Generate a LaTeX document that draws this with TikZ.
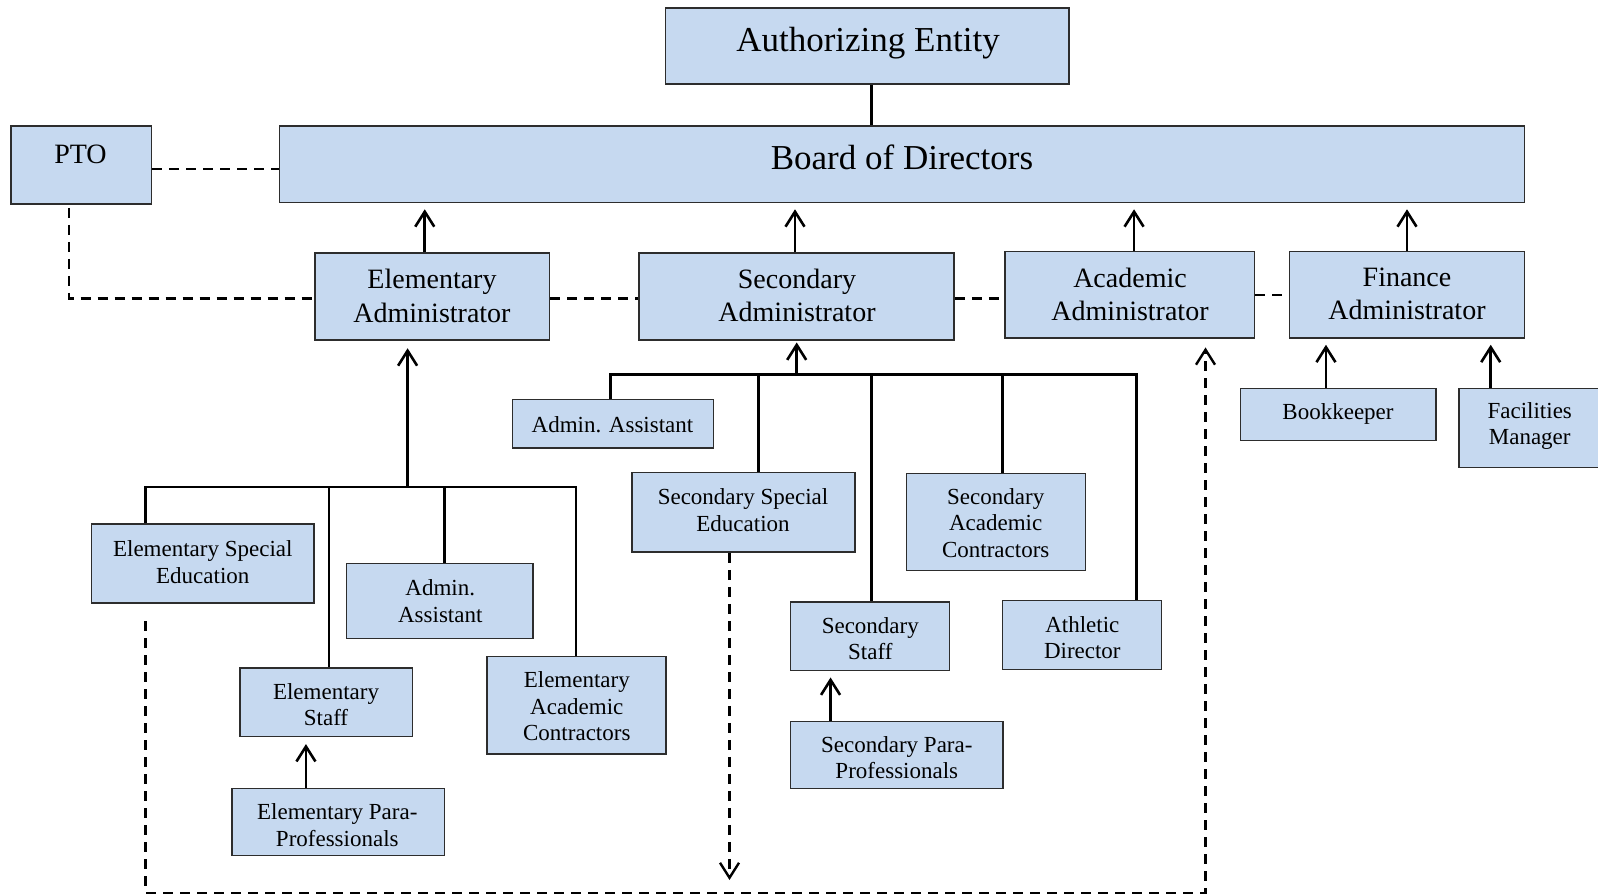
\documentclass[tikz,border=0pt]{standalone}
\usepackage{fontspec}
\setmainfont{Liberation Serif}
\usetikzlibrary{arrows.meta,fit}

\definecolor{boxfill}{RGB}{198,217,240}
\definecolor{boxline}{RGB}{45,45,45}

\begin{document}
\begin{tikzpicture}[x=0.5pt,y=-0.5pt,
  box/.style={draw=boxline, line width=0.75pt, fill=boxfill, inner sep=0pt},
  big/.style={font=\fontsize{17.5}{21}\selectfont},
  mid/.style={font=\fontsize{14}{16.8}\selectfont, align=center},
  small/.style={font=\fontsize{11.5}{13.25}\selectfont, align=center},
  link/.style={line width=1.3pt},
  tip/.style={-{Straight Barb[length=7.5pt,width=9.5pt]}},
  up/.style={link, tip},
  dashlink/.style={line width=1.2pt, dash pattern=on 5pt off 3.5pt},
]
\useasboundingbox (0,0) rectangle (1598,894);
\fill[white] (0,0) rectangle (1598,894);

% ---- boxes ----
\node[box, fit={(665.5,8) (1069,84)}] (auth) {};
\node[box, fit={(279.3,126) (1524.6,202.5)}] (board) {};
\node[box, fit={(11,126) (151.5,204)}] (pto) {};
\node[box, fit={(315,253) (549.5,340)}] (eadm) {};
\node[box, fit={(639,253) (954,340)}] (sadm) {};
\node[box, fit={(1004.8,251.5) (1254.5,338)}] (aadm) {};
\node[box, fit={(1289.3,251.5) (1524.7,338)}] (fadm) {};
\node[box, fit={(1240.3,388.7) (1436,440.7)}] (book) {};
\node[box, fit={(1459,388.7) (1612,467.7)}] (fac) {};
\node[box, fit={(512.6,399.3) (713.3,448)}] (sasst) {};
\node[box, fit={(631.8,472.7) (855,552)}] (sse) {};
\node[box, fit={(906.5,473.3) (1085.3,570.7)}] (sac) {};
\node[box, fit={(790.5,602) (949.7,670.7)}] (sstaff) {};
\node[box, fit={(1002.5,600.7) (1161.6,669.3)}] (ath) {};
\node[box, fit={(790.5,721.3) (1003,788.7)}] (spara) {};
\node[box, fit={(91.7,523.8) (314,603)}] (ese) {};
\node[box, fit={(346.5,563.6) (533,638.5)}] (easst) {};
\node[box, fit={(239.8,668) (412.6,736.7)}] (estaff) {};
\node[box, fit={(487.1,656.7) (666.2,754)}] (eac) {};
\node[box, fit={(232.2,788.7) (444.7,855.7)}] (epara) {};

% ---- labels ----
\node[big] (auth-t) at (868,43.5) {Authorizing Entity};
\node[big] (board-t) at (902,157) {Board of Directors};
\node[mid] (pto-t) at (80.5,154) {PTO};
\node[mid] (eadm-t) at (432,296) {Elementary\\Administrator};
\node[mid] (sadm-t) at (797,295.5) {Secondary\\Administrator};
\node[mid] (aadm-t) at (1130,294.5) {Academic\\Administrator};
\node[mid] (fadm-t) at (1407,294) {Finance\\Administrator};
\node[small] (book-t) at (1338,413.5) {Bookkeeper};
\node[small] (fac-t) at (1529.7,426) {Facilities\\Manager};
\node[small] (sasst-t) at (612.5,425) {Admin. Assistant};
\node[small] (sse-t) at (743,510.3) {Secondary Special\\Education};
\node[small] (sac-t) at (995.7,523) {Secondary\\Academic\\Contractors};
\node[small] (sstaff-t) at (870.3,638.5) {Secondary\\Staff};
\node[small] (ath-t) at (1082.3,637.5) {Athletic\\Director};
\node[small] (spara-t) at (896.8,757.5) {Secondary Para-\\Professionals};
\node[small] (ese-t) at (202.8,562) {Elementary Special\\Education};
\node[small] (easst-t) at (440.3,601.3) {Admin.\\Assistant};
\node[small] (estaff-t) at (326,704.7) {Elementary\\Staff};
\node[small] (eac-t) at (576.8,706.6) {Elementary\\Academic\\Contractors};
\node[small] (epara-t) at (337.3,825) {Elementary Para-\\Professionals};

% ---- top of the chart ----
\draw[link] ([xshift=2pt]auth.south) -- ([xshift=2pt]auth.south |- board.north);
\draw[up, shorten >=3pt] ([xshift=-3.75pt]eadm.north) -- ([xshift=-3.75pt]eadm.north |- board.south);
\draw[up, shorten >=3pt] ([xshift=-0.75pt]sadm.north) -- ([xshift=-0.75pt]sadm.north |- board.south);
\draw[up, shorten >=3pt] ([xshift=2.2pt]aadm.north) -- ([xshift=2.2pt]aadm.north |- board.south);
\draw[up, shorten >=3pt] (fadm.north) -- (fadm.north |- board.south);

% ---- dashed liaisons ----
\draw[dashlink] ([yshift=-2pt]pto.east) -- ([yshift=-2pt]pto.east -| board.west);
\draw[dashlink] ([xshift=-6pt,yshift=-1.5pt]pto.south) |- ([yshift=-1pt]eadm.west);
\draw[dashlink] ([yshift=-1pt]eadm.east) -- ([yshift=-1pt]eadm.east -| sadm.west);
\draw[dashlink] ([yshift=-1pt]sadm.east) -- ([yshift=-1pt]sadm.east -| aadm.west);
\draw[dashlink] (aadm.east) -- (aadm.east -| fadm.west);

% ---- finance ----
\draw[up, shorten >=3pt] ([xshift=-6.1pt]book.north) -- ([xshift=-6.1pt]book.north |- fadm.south);
\draw[up, shorten >=3pt] ([xshift=-22.4pt]fac.north) -- ([xshift=-22.4pt]fac.north |- fadm.south);

% ---- secondary branch ----
\coordinate (sbus) at (796.7,374.3);
\coordinate (sasst-top) at ([xshift=-1.15pt]sasst.north);
\coordinate (ath-top) at ([xshift=27.3pt]ath.north);
\coordinate (sse-top) at ([xshift=7.5pt]sse.north);
\coordinate (sac-top) at ([xshift=3.35pt]sac.north);
\coordinate (sstaff-top) at ([xshift=0.8pt]sstaff.north);
\draw[up, shorten >=0.85pt] (sbus) -- (sbus |- sadm.south);
\draw[link] (sasst-top) -- (sasst-top |- sbus) -| (ath-top);
\draw[link] (sbus -| sse-top) -- (sse-top);
\draw[link] (sbus -| sstaff-top) -- (sstaff-top);
\draw[link] (sbus -| sac-top) -- (sac-top);
\draw[up, shorten >=3pt] ([xshift=-33.1pt]spara.north) -- ([xshift=-33.1pt]spara.north |- sstaff.south);

% ---- elementary branch ----
\coordinate (ebus) at (407.6,487);
\coordinate (ese-top) at ([xshift=-28.55pt]ese.north);
\coordinate (eac-top) at ([xshift=-0.4pt]eac.north);
\coordinate (estaff-top) at ([xshift=1.4pt]estaff.north);
\coordinate (easst-top) at ([xshift=2.3pt]easst.north);
\draw[up, shorten >=3.75pt] (ebus) -- (ebus |- eadm.south);
\draw[link] (ese-top) -- (ese-top |- ebus) -| (eac-top);
\draw[link] (ebus -| estaff-top) -- (estaff-top);
\draw[link] (ebus -| easst-top) -- (easst-top);
\draw[up, shorten >=3.3pt] ([xshift=-16.25pt]epara.north) -- ([xshift=-16.25pt]epara.north |- estaff.south);

% ---- special education loops ----
\coordinate (loop-l) at (145.6,892.7);
\coordinate (loop-r) at (1205.5,892.7);
\coordinate (sse-end) at (729.5,880);
\draw[dashlink, tip, shorten >=4.35pt] ([yshift=-8.85pt]ese.south -| loop-l) -- (loop-l) -- (loop-r) -- (loop-r |- aadm.south);
\draw[dashlink, tip] (sse.south -| sse-end) -- (sse-end);
\end{tikzpicture}
\end{document}
